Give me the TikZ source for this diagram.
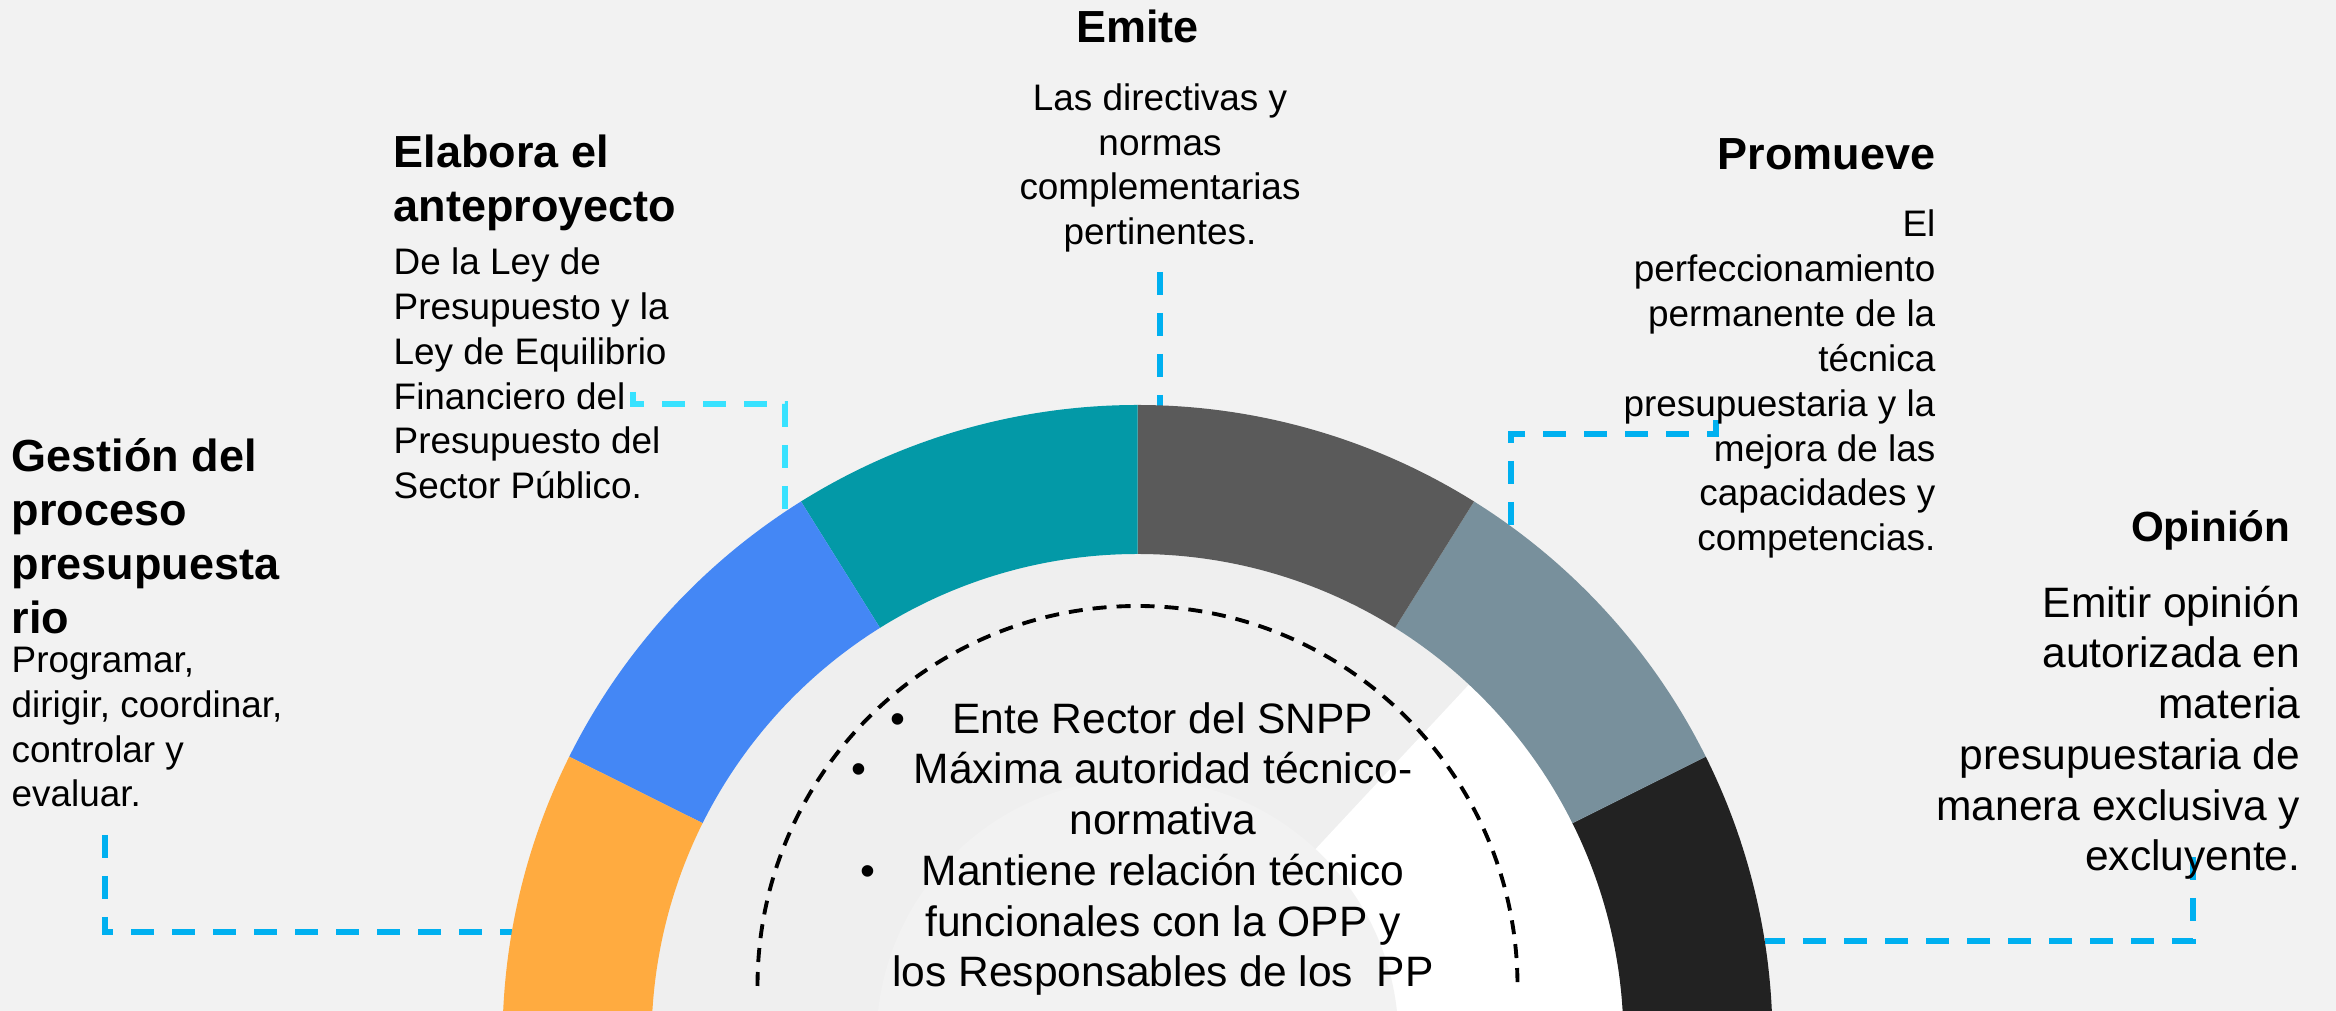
\documentclass[tikz,border=0pt]{standalone}
\usepackage{fontspec}
\setmainfont{Liberation Sans}

\definecolor{bgGray}{HTML}{F2F2F2}
\definecolor{innerGray}{HTML}{EFEFEF}
\definecolor{segOrange}{HTML}{FFAB40}
\definecolor{segBlue}{HTML}{4487F5}
\definecolor{segTeal}{HTML}{0399A7}
\definecolor{segDark}{HTML}{5A5A5A}
\definecolor{segSlate}{HTML}{78909C}
\definecolor{segBlack}{HTML}{222222}
\definecolor{linkBlue}{HTML}{00B0F0}
\definecolor{linkCyan}{HTML}{38E2FF}

\begin{document}
\begin{tikzpicture}[
        headText/.style={font=\bfseries\fontsize{12.8}{15.4}\selectfont, inner sep=0pt},
        bodyText/.style={font=\fontsize{10.5}{12.8}\selectfont, inner sep=0pt},
        bigText/.style={font=\fontsize{12.1}{14.45}\selectfont, inner sep=0pt},
        linkLine/.style={draw=linkBlue, line width=1.7pt, dash pattern=on 2.3mm off 1.8mm},
        innerArc/.style={draw=black, line width=1.1pt, dash pattern=on 1.4mm off 1mm}]
        % Background
        \useasboundingbox (0,0) rectangle (23.36,10.11);
        \fill[bgGray] (0,0) rectangle (23.36,10.11);
        \clip (0,0) rectangle (23.36,10.11);

        % Connectors
        \coordinate (gesTip) at (1.05,1.76);
        \coordinate (gesRing) at (5.12,0.79);
        \coordinate (elaTip) at (6.33,6.19);
        \coordinate (elaRing) at (7.85,4.99);
        \coordinate (emiTip) at (11.60,7.39);
        \coordinate (emiRing) at (11.60,6.05);
        \coordinate (proTip) at (17.16,5.91);
        \coordinate (proRing) at (15.11,4.85);
        \coordinate (opiTip) at (21.93,1.54);
        \coordinate (opiRing) at (17.65,0.70);
        \draw[linkLine] (gesTip) |- (gesRing);
        \draw[linkLine, draw=linkCyan] (elaTip) -- ++(0,-0.12) -| (elaRing);
        \draw[linkLine] (emiTip) -- (emiRing);
        \draw[linkLine] (proTip) -- ++(0,-0.14) -| (proRing);
        \draw[linkLine] (opiTip) |- (opiRing);

        % Ring
        \begin{scope}[shift={(11.375,-0.29)}]
            \fill[innerGray] (0,0) circle (4.86);
            \fill[white] (0,0) -- (-10:4.86) arc[start angle=-10, end angle=47, radius=4.86] -- cycle;
            \fill[bgGray] (0,0) circle (2.61);
            \fill[segBlack] (-10:6.35) arc[start angle=-10, end angle=26.5, radius=6.35] -- (26.5:4.86) arc[start angle=26.5, end angle=-10, radius=4.86] -- cycle;
            \fill[segSlate] (26.5:6.35) arc[start angle=26.5, end angle=58, radius=6.35] -- (58:4.86) arc[start angle=58, end angle=26.5, radius=4.86] -- cycle;
            \fill[segDark] (58:6.35) arc[start angle=58, end angle=90, radius=6.35] -- (90:4.86) arc[start angle=90, end angle=58, radius=4.86] -- cycle;
            \fill[segTeal] (90:6.35) arc[start angle=90, end angle=122, radius=6.35] -- (122:4.86) arc[start angle=122, end angle=90, radius=4.86] -- cycle;
            \fill[segBlue] (122:6.35) arc[start angle=122, end angle=153.5, radius=6.35] -- (153.5:4.86) arc[start angle=153.5, end angle=122, radius=4.86] -- cycle;
            \fill[segOrange] (153.5:6.35) arc[start angle=153.5, end angle=190, radius=6.35] -- (190:4.86) arc[start angle=190, end angle=153.5, radius=4.86] -- cycle;
        \end{scope}
        \draw[innerArc] (7.575,0.25) arc[start angle=180, end angle=0, radius=3.8];

        % Labels (base = baseline of the last line)
        \node[headText, anchor=base west, align=left] (gesHead) at (0.11,3.77) {Gestión del\\proceso\\presupuesta\\rio};
        \node[bodyText, anchor=base west, align=left] (gesBody) at (0.11,2.04) {Programar,\\dirigir, coordinar,\\controlar y\\evaluar.};
        \node[headText, anchor=base west, align=left] (elaHead) at (3.93,7.89) {Elabora el\\anteproyecto};
        \node[bodyText, anchor=base west, align=left] (elaBody) at (3.93,5.12) {De la Ley de\\Presupuesto y la\\Ley de Equilibrio\\Financiero del\\Presupuesto del\\Sector Público.};
        \node[headText, anchor=base] (emiHead) at (11.375,9.68) {Emite};
        \node[bodyText, anchor=base, align=center] (emiBody) at (11.60,7.66) {Las directivas y\\normas\\complementarias\\pertinentes.};
        \node[headText, anchor=base east] (proHead) at (19.36,8.41) {Promueve};
        \node[bodyText, anchor=base east, align=right] (proBody) at (19.36,4.60) {El\\perfeccionamiento\\permanente de la\\técnica\\presupuestaria y la\\mejora de las\\capacidades y\\competencias.};
        \node[headText, font=\bfseries\fontsize{12}{14}\selectfont, anchor=base east] (opiHead) at (22.91,4.69) {Opinión};
        \node[bigText, anchor=base east, align=right] (opiBody) at (23.01,1.40) {Emitir opinión\\autorizada en\\materia\\presupuestaria de\\manera exclusiva y\\excluyente.};

        % Centre
        \node[bigText, anchor=base, align=center] (ente) at (11.63,0.24) {\llap{•\hspace{1.1em}}Ente Rector del SNPP\\\llap{•\hspace{1.1em}}Máxima autoridad técnico-\\normativa\\\llap{•\hspace{1.1em}}Mantiene relación técnico\\funcionales con la OPP y\\los Responsables de los\ \ PP};
    \end{tikzpicture}
\end{document}
